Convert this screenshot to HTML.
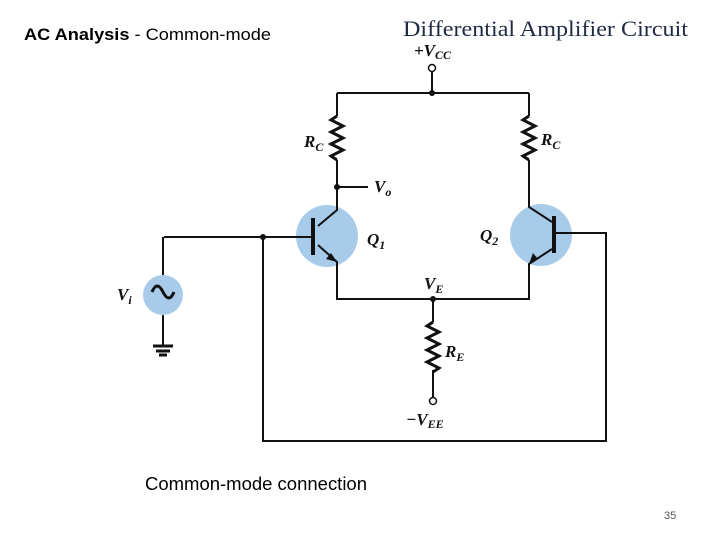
<!DOCTYPE html>
<html><head><style>body{margin:0;background:#fff}</style></head><body>
<svg width="720" height="540" xmlns="http://www.w3.org/2000/svg" style="display:block">
<text x="24" y="40" font-family="Liberation Sans, sans-serif" font-size="17" fill="#000" textLength="247" lengthAdjust="spacingAndGlyphs"><tspan font-weight="bold">AC Analysis</tspan>   - Common-mode</text>
<text x="403" y="36" font-family="Liberation Serif, serif" font-size="22" fill="#1f2a44" textLength="285" lengthAdjust="spacingAndGlyphs">Differential Amplifier Circuit</text>
<text x="145" y="490" font-family="Liberation Sans, sans-serif" font-size="18" textLength="222" lengthAdjust="spacingAndGlyphs">Common-mode connection</text>
<text x="664" y="519" font-family="Liberation Sans, sans-serif" font-size="11" fill="#555">35</text>
<g fill="#a7cbe8"><circle cx="327" cy="236" r="31"/><circle cx="541" cy="235" r="31"/><circle cx="163" cy="295" r="20"/></g>
<g stroke="#111" stroke-width="2" fill="none">
<path d="M432 72V93M337 93H529M529 93V116M337 93V116"/>
<path d="M337 116l-6 4 12 6-12 6 12 6-12 6 12 6-12 6 6 4M529 116l-6 4 12 6-12 6 12 6-12 6 12 6-12 6 6 4" stroke-width="3"/>
<path d="M337 160V210L318 226M529 160V207L552 222"/>
<path d="M337 187H368"/>
<path d="M164 237H312M163 237V275M163 315V345M263 237V441H606V233H555"/>
<path d="M318 245L337 262V299H529V264L552 249"/>
<path d="M433 299V322M433 370V397"/>
<path d="M433 322l-6 4 12 6-12 6 12 6-12 6 12 6-12 6 12 6-6 4" stroke-width="3"/>
<path d="M152 292q5-12 11 0t11 0" stroke-width="3"/>
</g>
<g stroke="#111" stroke-width="4"><path d="M313 218V255M554 216V253"/></g>
<g stroke="#111" stroke-width="3"><path d="M153 346H173M156 351H170M159 355H167"/></g>
<path d="M337 262l-11-3 5-6z" fill="#111"/>
<path d="M529 264l4-11 5 6z" fill="#111"/>
<g fill="#111"><circle cx="432" cy="93" r="3"/><circle cx="337" cy="187" r="3"/><circle cx="263" cy="237" r="3"/><circle cx="433" cy="299" r="3"/></g>
<g fill="#fff" stroke="#111" stroke-width="1.5"><circle cx="432" cy="68" r="3.5"/><circle cx="433" cy="401" r="3.5"/></g>
<g font-family="Liberation Serif, serif" font-style="italic" font-weight="bold" font-size="17" fill="#111">
<text x="414" y="56">+V<tspan font-size="12" dy="3">CC</tspan></text>
<text x="304" y="147">R<tspan font-size="12" dy="4">C</tspan></text>
<text x="541" y="145">R<tspan font-size="12" dy="4">C</tspan></text>
<text x="374" y="192">V<tspan font-size="12" dy="4">o</tspan></text>
<text x="367" y="245">Q<tspan font-size="12" dy="4">1</tspan></text>
<text x="480" y="241">Q<tspan font-size="12" dy="4">2</tspan></text>
<text x="424" y="289">V<tspan font-size="12" dy="4">E</tspan></text>
<text x="445" y="357">R<tspan font-size="12" dy="4">E</tspan></text>
<text x="117" y="300">V<tspan font-size="12" dy="4">i</tspan></text>
<text x="406" y="425">−V<tspan font-size="12" dy="3">EE</tspan></text>
</g>
</svg>
</body></html>
